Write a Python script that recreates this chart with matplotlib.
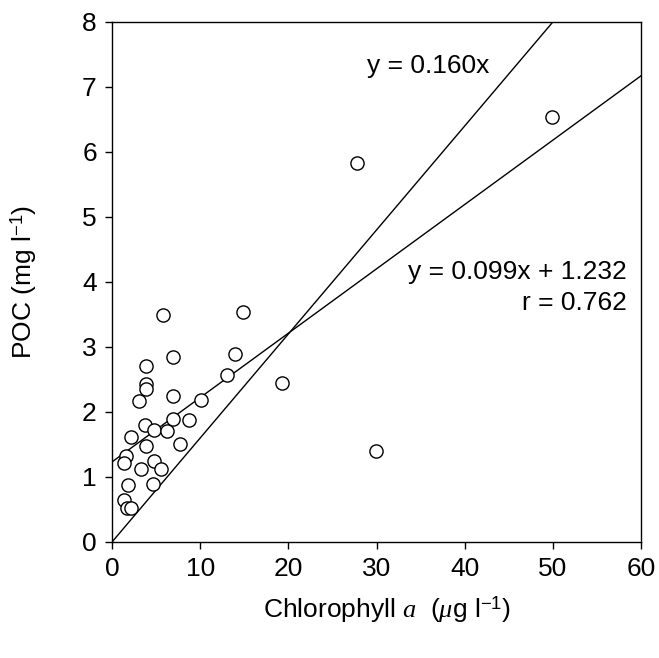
import numpy as np
import matplotlib
matplotlib.use('Agg')
import matplotlib.pyplot as plt

plt.rcParams['font.family'] = ['Liberation Sans', 'DejaVu Sans']
plt.rcParams['mathtext.fontset'] = 'custom'
plt.rcParams['mathtext.rm'] = 'Liberation Sans'
plt.rcParams['mathtext.it'] = 'Liberation Serif:italic'
plt.rcParams['mathtext.cal'] = 'Liberation Sans'

# chlorophyll a (ug/l) and POC (mg/l)
chl = [5.8, 14.9, 14.0, 13.0, 19.3, 3.85, 6.9, 3.9, 3.8, 3.1, 6.95, 10.1,
       6.9, 8.7, 3.7, 4.8, 6.2, 2.1, 3.8, 7.7, 1.6, 1.4, 3.3, 4.8, 5.5,
       1.85, 4.6, 1.4, 1.7, 2.2, 27.8, 49.9, 29.9]
poc = [3.49, 3.54, 2.89, 2.57, 2.44, 2.71, 2.84, 2.43, 2.35, 2.17, 2.24, 2.18,
       1.89, 1.88, 1.80, 1.72, 1.71, 1.62, 1.47, 1.50, 1.33, 1.21, 1.13, 1.24, 1.12,
       0.87, 0.89, 0.64, 0.52, 0.53, 5.83, 6.54, 1.40]

slope_origin = 0.160
slope_fit = 0.099
icept_fit = 1.232

fig = plt.figure(figsize=(6.59, 6.58), dpi=100)
ax = fig.add_axes([0.170, 0.1763, 0.8027, 0.7903])

xx = np.array([0, 60])
ax.plot(xx, slope_origin * xx, color='black', lw=1.0)
ax.plot(xx, slope_fit * xx + icept_fit, color='black', lw=1.0)
ax.plot(chl, poc, 'o', mfc='white', mec='black', ms=9.5, mew=1.0, linestyle='none')

ax.set_xlim(0, 60)
ax.set_ylim(0, 8)
ax.set_xticks(range(0, 61, 10))
ax.set_yticks(range(0, 9))
ax.tick_params(direction='out', length=5, width=1.0, labelsize=19, pad=6)
for s in ax.spines.values():
    s.set_linewidth(1.0)

ax.text(28.9, 7.32, 'y = 0.160x', fontsize=19, ha='left', va='center')
ax.text(58.35, 4.15, 'y = 0.099x + 1.232', fontsize=19, ha='right', va='center')
ax.text(58.35, 3.68, 'r = 0.762', fontsize=19, ha='right', va='center')

ax.set_xlabel(r'Chlorophyll $\mathit{a}$  ($\mu$g l$^{\mathrm{-1}}$)', fontsize=19)
ax.xaxis.set_label_coords(0.52, -0.10)
ax.set_ylabel(r'POC (mg l$^{\mathrm{-1}}$)', fontsize=19)
ax.yaxis.set_label_coords(-0.138, 0.5)

fig.savefig('out.png', dpi=100)
